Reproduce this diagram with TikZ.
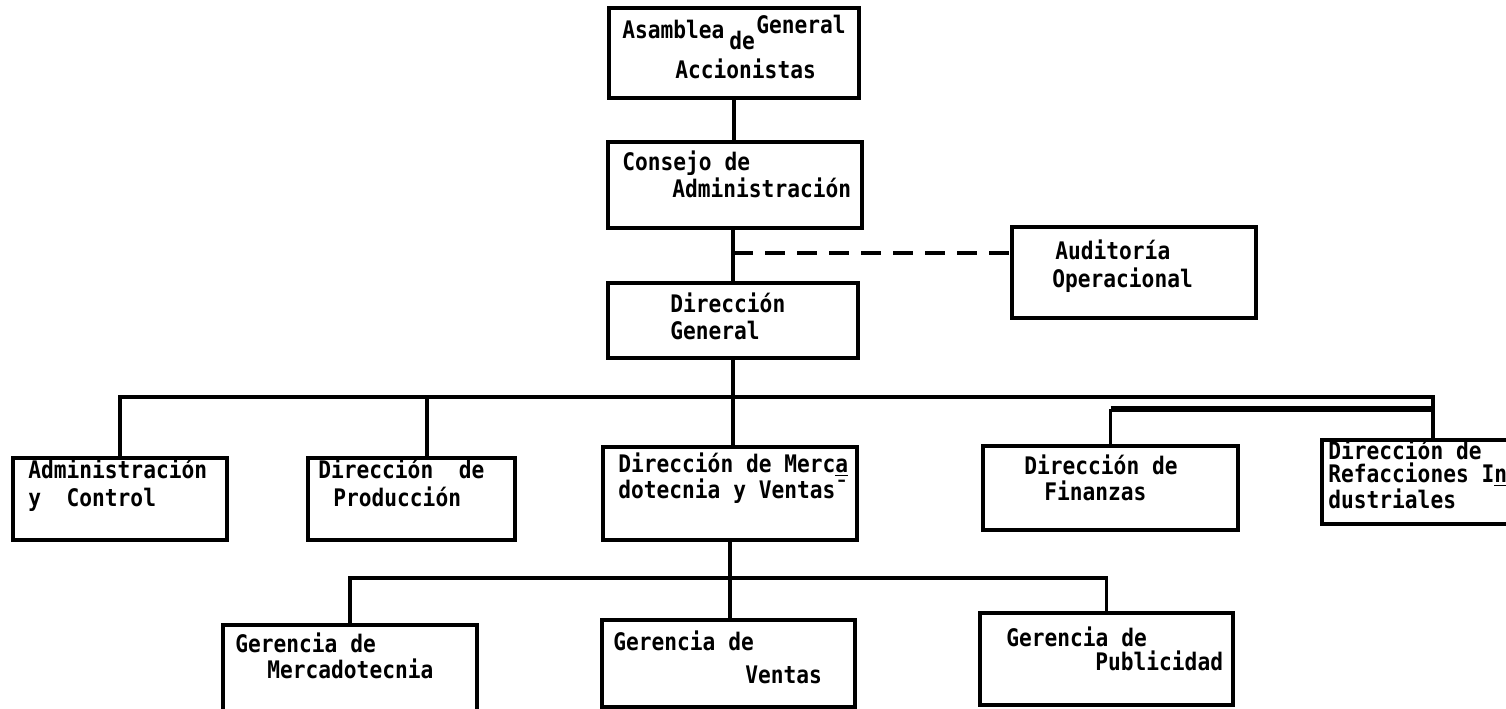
\documentclass[tikz,border=0pt]{standalone}
\usepackage{fontspec}
\newfontfamily\tw{DejaVu Sans Mono}
\newcommand{\sy}[1]{\scalebox{1}[1.14]{#1}}
\usetikzlibrary{fit}
\begin{document}
\begin{tikzpicture}[x=0.5pt,y=-0.5pt,
  box/.style={draw, line width=1.7pt, inner sep=0pt},
  conn/.style={line width=1.7pt},
  dashconn/.style={line width=1.7pt, dash pattern=on 10pt off 6pt},
  lbl/.style={anchor=base west, inner sep=0pt, font=\tw\bfseries\fontsize{10.6}{13}\selectfont}]
\useasboundingbox (0,0) rectangle (1506,708);
\clip (0,0) rectangle (1506,708);
% boxes
\node[box, fit={(609,8) (859,98)}] (asam) {};
\node[box, fit={(608,142) (862,228)}] (cons) {};
\node[box, fit={(1012,227) (1256,318)}] (aud) {};
\node[box, fit={(608,283) (858,358)}] (dg) {};
\node[box, fit={(13,458) (227,540)}] (adm) {};
\node[box, fit={(308,458) (515,540)}] (prod) {};
\node[box, fit={(603,447) (857,540)}] (merca) {};
\node[box, fit={(983,446) (1238,530)}] (fin) {};
\node[box, fit={(1322,440) (1540,524)}] (ref) {};
\node[box, fit={(223,625) (477,712)}] (gm) {};
\node[box, fit={(602,620) (855,707)}] (gv) {};
\node[box, fit={(980,613) (1233,705)}] (gp) {};
% texts
\node[lbl] (t1a) at (622,38) {\sy{Asamblea}};
\node[lbl] (t1b) at (729,49) {\sy{de}};
\node[lbl] (t1c) at (756,33) {\sy{General}};
\node[lbl] (t1d) at (675,78) {\sy{Accionistas}};
\node[lbl] (t2a) at (622,170) {\sy{Consejo de}};
\node[lbl] (t2b) at (672,197) {\sy{Administración}};
\node[lbl] (t3a) at (1055,259) {\sy{Auditoría}};
\node[lbl] (t3b) at (1052,287) {\sy{Operacional}};
\node[lbl] (t4a) at (670,312) {\sy{Dirección}};
\node[lbl] (t4b) at (670,339) {\sy{General}};
\node[lbl] (t5a) at (28,478) {\sy{Administración}};
\node[lbl] (t5b) at (28,506) {\sy{y~ Control}};
\node[lbl] (t6a) at (318,478) {\sy{Dirección~ de}};
\node[lbl] (t6b) at (333,506) {\sy{Producción}};
\node[lbl] (t7a) at (618,472) {\sy{Dirección de Merc\underline{a}}};
\node[lbl] (t7b) at (618,498) {\sy{dotecnia y Ventas¯}};
\node[lbl] (t8a) at (1024,474) {\sy{Dirección de}};
\node[lbl] (t8b) at (1044,500) {\sy{Finanzas}};
\node[lbl] (t9a) at (1328,459) {\sy{Dirección de}};
\node[lbl] (t9b) at (1328,482) {\sy{Refacciones I\underline{n}}};
\node[lbl] (t9c) at (1328,508) {\sy{dustriales}};
\node[lbl] (t10a) at (235,652) {\sy{Gerencia de}};
\node[lbl] (t10b) at (267,678) {\sy{Mercadotecnia}};
\node[lbl] (t11a) at (613,650) {\sy{Gerencia de}};
\node[lbl] (t11b) at (745,683) {\sy{Ventas}};
\node[lbl] (t12a) at (1006,646) {\sy{Gerencia de}};
\node[lbl] (t12b) at (1095,670) {\sy{Publicidad}};
% junction coordinates
\coordinate (ja) at (733,253);
\coordinate (busR) at (1433,397);
\coordinate (busR2) at (1433,409);
\coordinate (pj) at (427,397);
\coordinate (lbar) at (730,578);
% connectors
\draw[conn] (asam.south) -- (asam.south |- cons.north);
\draw[conn] (ja |- cons.south) -- (ja |- dg.north);
\draw[dashconn] (ja) -- (ja -| aud.west);
\draw[conn] (dg.south) -- (dg.south |- merca.north);
\draw[conn] (adm.north) |- (busR) -- (busR |- ref.north);
\draw[conn] (pj) -- (pj |- prod.north);
\draw[conn] (fin.north) -- (fin.north |- busR2);
\draw[line width=2.8pt] (fin.north |- busR2) -- (busR2);
\draw[conn] (merca.south) -- (merca.south |- gv.north);
\draw[conn] (gm.north) |- (gp.north |- lbar) -- (gp.north);
\end{tikzpicture}
\end{document}
